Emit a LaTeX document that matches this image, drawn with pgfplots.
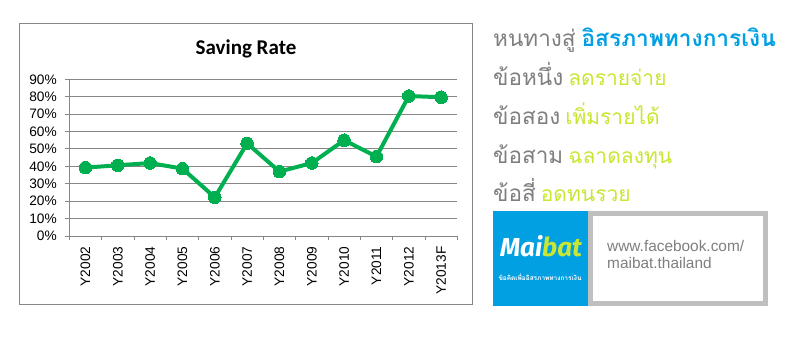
\documentclass[border=0pt]{standalone}
\usepackage{pgfplots}
\pgfplotsset{compat=1.18}
\usepackage{fontspec}
\setmainfont{Liberation Sans}
\newfontfamily\carlito{Carlito}
\newfontfamily\thaifont[Script=Thai]{Loma}
\newfontfamily\logofont{Fira Sans}
\definecolor{xlgreen}{HTML}{00B050}
\definecolor{gridgray}{HTML}{868686}
\definecolor{txtgray}{HTML}{7F7F7F}
\definecolor{thblue}{HTML}{00A0E3}
\definecolor{thgreen}{HTML}{C8E632}
\definecolor{boxgray}{HTML}{BFBFBF}
\newcommand{\gr}[1]{\textcolor{txtgray}{\fontsize{22.5}{28}\selectfont #1}}
\newcommand{\gn}[1]{\textcolor{thgreen}{\fontsize{21}{28}\selectfont #1}}
\begin{document}
\begin{tikzpicture}
\fill[white] (0pt,0pt) rectangle (786pt,345pt);
% chart frame
\draw[gridgray, line width=0.9pt] (19.5pt,40.7pt) rectangle (472.3pt,321.7pt);
\node[font=\carlito\bfseries\fontsize{21}{24}\selectfont] at (246pt,296pt) {Saving Rate};
\begin{axis}[at={(69.3pt,109pt)}, anchor=south west, scale only axis,
  width=388pt, height=156.7pt,
  xmin=-0.5, xmax=11.5, ymin=0, ymax=90,
  axis lines*=left,
  axis line style={draw=gridgray, line width=0.9pt},
  ymajorgrids, grid style={gridgray, line width=0.9pt},
  ytick={0,10,...,90},
  yticklabels={0\%,10\%,20\%,30\%,40\%,50\%,60\%,70\%,80\%,90\%},
  xtick={-0.5,0.5,...,11.5}, xticklabels={},
  extra x ticks={0,1,...,11},
  extra x tick labels={Y2002,Y2003,Y2004,Y2005,Y2006,Y2007,Y2008,Y2009,Y2010,Y2011,Y2012,Y2013F},
  extra x tick style={major tick length=0pt, grid=none, xticklabel style={rotate=90, anchor=east}, xticklabel shift=7pt},
  tick align=outside, major tick length=4pt,
  tick style={draw=gridgray, line width=0.9pt},
  ticklabel style={font=\fontsize{13.7}{16}\selectfont, text=black},
  yticklabel shift=5pt,
  clip=false,
]
\addplot[color=xlgreen, line width=4pt, line join=round, mark=*, mark size=6.3pt,
  mark options={fill=xlgreen, draw=xlgreen, line width=0pt}]
  coordinates {(0,39.3) (1,40.6) (2,41.9) (3,38.7) (4,22.2) (5,53.2) (6,37.0) (7,41.9) (8,55.0) (9,45.6) (10,80.4) (11,79.7)};
\end{axis}
% Thai text
\begin{scope}[every node/.style={anchor=base west, inner sep=0pt}]
\node at (493pt,298pt) {\thaifont\gr{หนทางสู่}\hspace{6pt}\textcolor{thblue}{\fontsize{22.7}{28}\selectfont\bfseries อิสรภาพทางการเงิน}};
\node at (493pt,259pt) {\thaifont\gr{ข้อหนึ่ง}\hspace{5pt}\gn{ลดรายจ่าย}};
\node at (493pt,220pt) {\thaifont\gr{ข้อสอง}\hspace{5pt}\gn{เพิ่มรายได้}};
\node at (493pt,181pt) {\thaifont\gr{ข้อสาม}\hspace{5pt}\gn{ฉลาดลงทุน}};
\node at (493pt,143pt) {\thaifont\gr{ข้อสี่}\hspace{5pt}\gn{อดทนรวย}};
\end{scope}
% logo
\fill[thblue] (493pt,39pt) rectangle (588pt,134pt);
\node at (541pt,99pt) {\logofont\bfseries\itshape\fontsize{26}{30}\selectfont\textcolor{white}{Mai}\textcolor{thgreen}{bat}};
\node[text=white] at (540pt,68pt) {\thaifont\bfseries\fontsize{6.5}{8}\selectfont ข้อคิดเพื่ออิสรภาพทางการเงิน};
% url box
\fill[boxgray] (588pt,39pt) rectangle (768pt,134pt);
\fill[white] (593pt,44pt) rectangle (763pt,129pt);
\node[anchor=base west, inner sep=0pt, text=txtgray] at (607pt,93pt) {\fontsize{15.4}{17}\selectfont www.facebook.com/};
\node[anchor=base west, inner sep=0pt, text=txtgray] at (607pt,76pt) {\fontsize{15.4}{17}\selectfont maibat.thailand};
\end{tikzpicture}
\end{document}
